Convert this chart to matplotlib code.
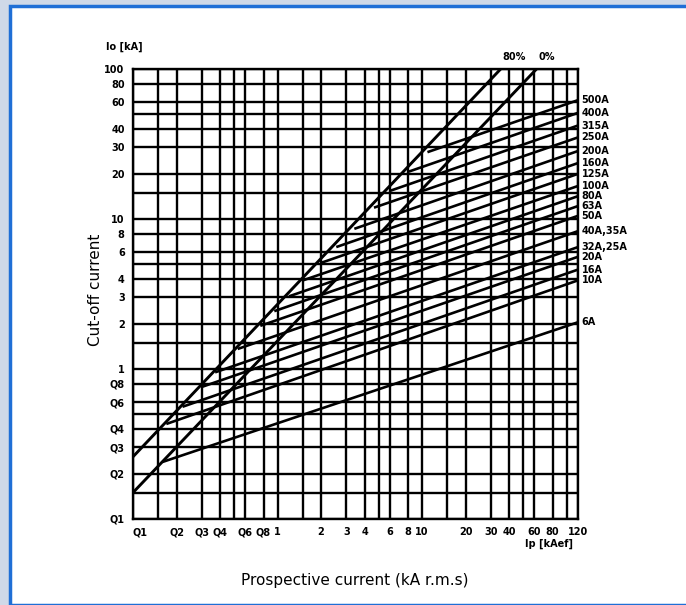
import matplotlib
matplotlib.use("Agg")
import matplotlib.pyplot as plt
from matplotlib.patches import Rectangle

# grid values (same on both log axes)
grid_x = [0.1, 0.15, 0.2, 0.3, 0.4, 0.5, 0.6, 0.8, 1, 1.5, 2, 3, 4, 5, 6, 8,
          10, 15, 20, 30, 40, 50, 60, 80, 100, 120]
grid_y = [0.1, 0.15, 0.2, 0.3, 0.4, 0.5, 0.6, 0.8, 1, 1.5, 2, 3, 4, 5, 6, 8,
          10, 15, 20, 30, 40, 50, 60, 80, 100]

xtick_vals = [0.1, 0.2, 0.3, 0.4, 0.6, 0.8, 1, 2, 3, 4, 6, 8, 10, 20, 30, 40, 60, 80, 120]
xtick_text = ['Q1', 'Q2', 'Q3', 'Q4', 'Q6', 'Q8', '1', '2', '3', '4', '6', '8', '10',
              '20', '30', '40', '60', '80', '120']
ytick_vals = [0.1, 0.2, 0.3, 0.4, 0.6, 0.8, 1, 2, 3, 4, 6, 8, 10, 20, 30, 40, 60, 80, 100]
ytick_text = ['Q1', 'Q2', 'Q3', 'Q4', 'Q6', 'Q8', '1', '2', '3', '4', '6', '8', '10',
              '20', '30', '40', '60', '80', '100']

# asymmetry lines 80% and 0%
line80_ip = [0.1, 35]
line80_io = [0.26, 100]
line0_ip = [0.1, 62]
line0_io = [0.15, 100]

# fuse cut-off lines
fuse_labels = ['500A', '400A', '315A', '250A', '200A', '160A', '125A', '100A', '80A',
               '63A', '50A', '40A,35A', '32A,25A', '20A', '16A', '10A', '6A']
fuse_ip_start = [10.9, 8.1, 6.0, 4.65, 3.4, 2.55, 2.0, 1.5, 1.2,
                 0.95, 0.76, 0.53, 0.37, 0.3, 0.22, 0.17, 0.16]
fuse_io_start = [27.9, 20.7, 15.4, 11.9, 8.6, 6.5, 5.1, 3.9, 3.05,
                 2.43, 1.94, 1.36, 0.95, 0.76, 0.56, 0.43, 0.24]
fuse_ip_end = 120
fuse_io_end = [62, 51, 42, 35, 28.4, 23.6, 20, 16.6, 14.2,
               12.2, 10.5, 8.3, 6.5, 5.6, 4.6, 3.9, 2.05]

fig = plt.figure(figsize=(6.86, 6.05), dpi=100)
fig.patch.set_facecolor('#cfd9e8')
fig.patches.append(Rectangle((10 / 686, 0), 1, 1 - 6 / 605, transform=fig.transFigure,
                             facecolor='white', edgecolor='#1f6fd6', lw=2.5, zorder=-10))

ax = fig.add_axes([133 / 686, 1 - 519 / 605, 445 / 686, 450 / 605])
ax.set_xscale('log')
ax.set_yscale('log')
ax.set_xlim(0.1, 120)
ax.set_ylim(0.1, 100)
ax.patch.set_alpha(0)

lw = 1.7
for v in grid_x:
    ax.axvline(v, color='black', lw=lw)
for v in grid_y:
    ax.axhline(v, color='black', lw=lw)
for s in ax.spines.values():
    s.set_linewidth(lw)

ax.plot(line80_ip, line80_io, color='black', lw=2.1)
ax.plot(line0_ip, line0_io, color='black', lw=2.1)

small = dict(fontsize=7, fontweight='bold')
for i in range(len(fuse_labels)):
    ax.plot([fuse_ip_start[i], fuse_ip_end], [fuse_io_start[i], fuse_io_end[i]],
            color='black', lw=1.9, solid_capstyle='butt')
    ax.text(127, fuse_io_end[i], fuse_labels[i], ha='left', va='center',
            clip_on=False, **small)

ax.minorticks_off()
ax.set_xticks(xtick_vals)
ax.set_xticklabels(xtick_text, **small)
ax.set_yticks(ytick_vals)
ax.set_yticklabels(ytick_text, **small)
ax.tick_params(length=0, pad=6)
ax.get_xticklabels()[0].set_horizontalalignment('left')

ax.text(0.065, 141, 'Io [kA]', ha='left', va='center', **small)
ax.text(43, 120, '80%', ha='center', va='center', **small)
ax.text(73, 120, '0%', ha='center', va='center', **small)
ax.text(75, 0.068, 'Ip [kAef]', ha='center', va='center', **small)

fig.text(95 / 686, 1 - 290 / 605, 'Cut-off current', rotation=90, fontsize=11,
         ha='center', va='center')
fig.text(355 / 686, 1 - 580 / 605, 'Prospective current (kA r.m.s)', fontsize=11,
         ha='center', va='center')

fig.savefig('out.png', dpi=100)
